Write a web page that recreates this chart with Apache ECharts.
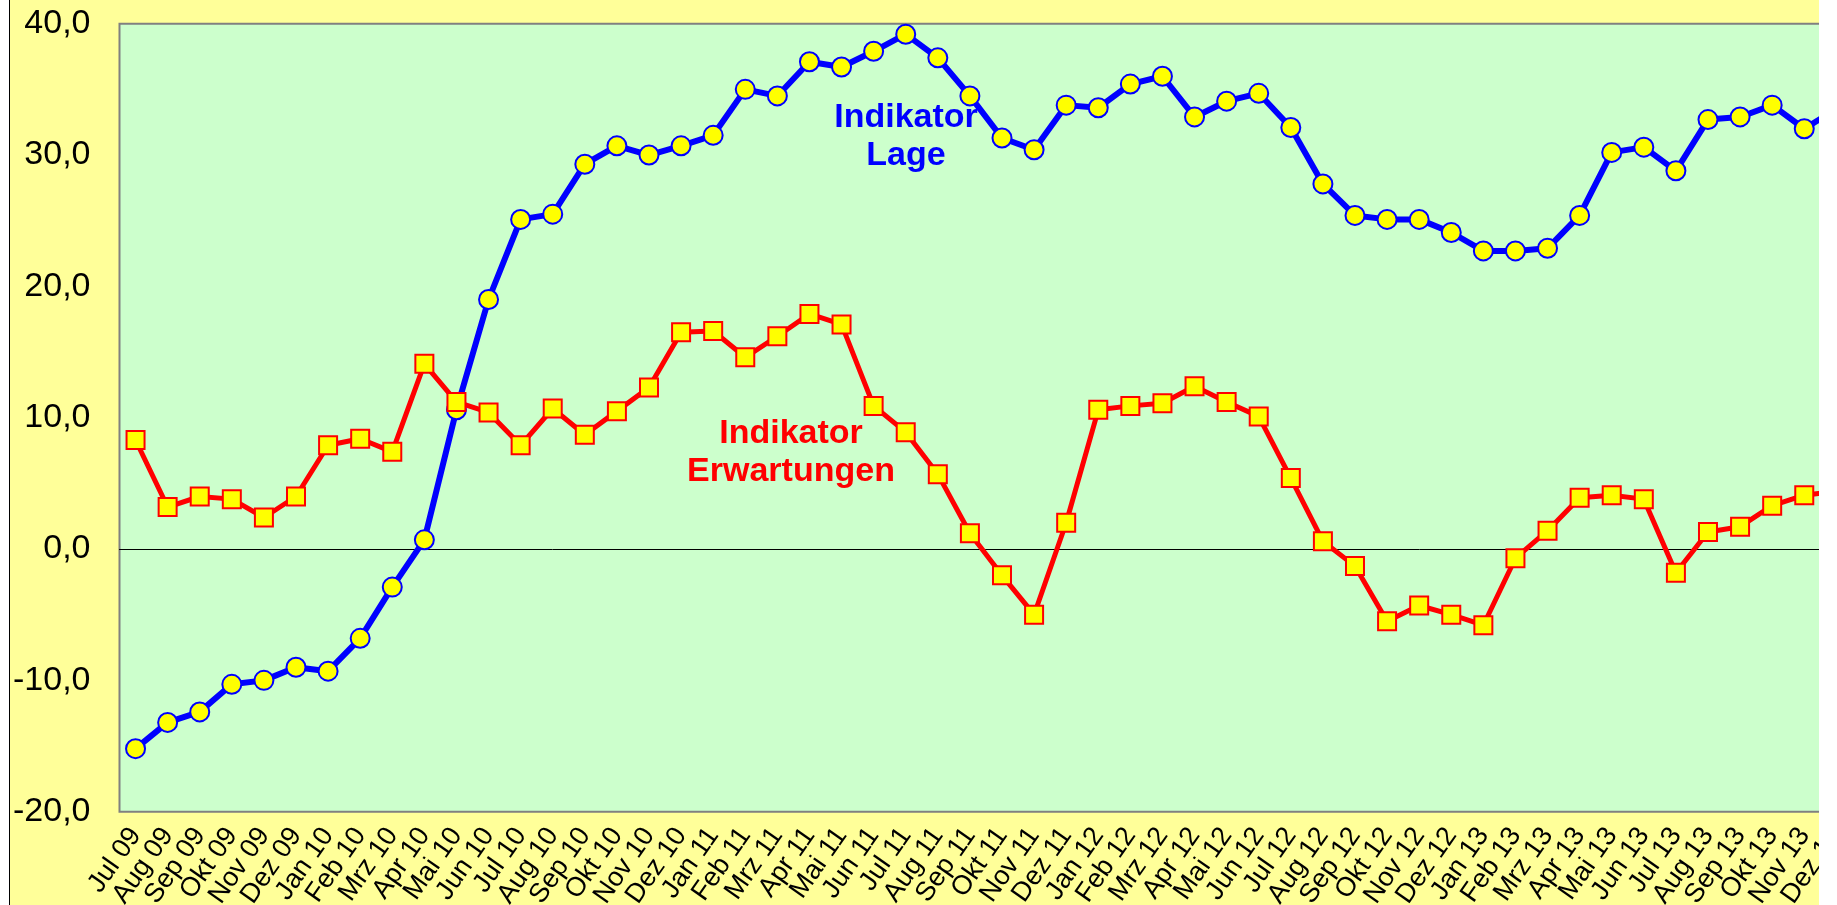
<!DOCTYPE html>
<html>
<head>
<meta charset="utf-8">
<script src="https://cdn.jsdelivr.net/npm/echarts@6/dist/echarts.min.js"></script>
<style>
  html, body { margin: 0; padding: 0; background: #ffffff; }
  #wrap { position: absolute; left: 9px; top: 0; width: 1810px; height: 905px; overflow: hidden; border-left: 1px solid #000; box-sizing: border-box; background: #FFFF99; }
  #chart { position: absolute; left: 0; top: 0; width: 1900px; height: 905px; }
</style>
</head>
<body>
<div id="wrap"><div id="chart"></div></div>
<script>
const categories = [
  'Jul 09','Aug 09','Sep 09','Okt 09','Nov 09','Dez 09',
  'Jan 10','Feb 10','Mrz 10','Apr 10','Mai 10','Jun 10','Jul 10','Aug 10','Sep 10','Okt 10','Nov 10','Dez 10',
  'Jan 11','Feb 11','Mrz 11','Apr 11','Mai 11','Jun 11','Jul 11','Aug 11','Sep 11','Okt 11','Nov 11','Dez 11',
  'Jan 12','Feb 12','Mrz 12','Apr 12','Mai 12','Jun 12','Jul 12','Aug 12','Sep 12','Okt 12','Nov 12','Dez 12',
  'Jan 13','Feb 13','Mrz 13','Apr 13','Mai 13','Jun 13','Jul 13','Aug 13','Sep 13','Okt 13','Nov 13','Dez 13'
];
const lage = [
  -15.2, -13.2, -12.4, -10.3, -10.0, -9.0,
  -9.3, -6.8, -2.9, 0.7, 10.6, 19.0, 25.1, 25.5, 29.3, 30.7, 30.0, 30.7,
  31.5, 35.0, 34.5, 37.1, 36.7, 37.9, 39.2, 37.4, 34.5, 31.3, 30.4, 33.8,
  33.6, 35.4, 36.0, 32.9, 34.1, 34.7, 32.1, 27.8, 25.4, 25.1, 25.1, 24.1,
  22.7, 22.7, 22.9, 25.4, 30.2, 30.6, 28.8, 32.7, 32.9, 33.8, 32.0, 33.5
];
const erwartungen = [
  8.3, 3.2, 4.0, 3.8, 2.4, 4.0,
  7.9, 8.4, 7.4, 14.1, 11.2, 10.4, 7.9, 10.7, 8.7, 10.5, 12.3, 16.5,
  16.6, 14.6, 16.2, 17.9, 17.1, 10.9, 8.9, 5.7, 1.2, -2.0, -5.0, 2.0,
  10.6, 10.9, 11.1, 12.4, 11.2, 10.1, 5.4, 0.6, -1.3, -5.5, -4.3, -5.0,
  -5.8, -0.7, 1.4, 3.9, 4.1, 3.8, -1.8, 1.3, 1.7, 3.3, 4.1, 4.4
];
const yMin = -20, yMax = 40, yStep = 10;
const labelLage = 'Indikator\nLage';
const labelErw = 'Indikator\nErwartungen';

const FONT = '"Liberation Sans", Arial, sans-serif';
const chart = echarts.init(document.getElementById('chart'), null, { renderer: 'canvas' });
chart.setOption({
  backgroundColor: '#FFFF99',
  animation: false,
  grid: {
    left: 109.5, right: 57.6, top: 23.7, bottom: 93.3,
    show: true, backgroundColor: '#CCFFCC', borderColor: '#808080', borderWidth: 2,
    containLabel: false, outerBoundsMode: 'none'
  },
  xAxis: [{
    type: 'category', data: categories, boundaryGap: true, position: 'bottom',
    axisLine: { show: false, onZero: false }, axisTick: { show: false },
    axisLabel: { interval: 0, rotate: 55, fontSize: 27, color: '#000', fontFamily: FONT, margin: 19 },
    splitLine: { show: false }
  }, {
    type: 'category', data: categories, boundaryGap: true, position: 'bottom',
    axisLine: { show: true, onZero: true, lineStyle: { color: '#000', width: 1 } },
    axisTick: { show: false }, axisLabel: { show: false }, splitLine: { show: false }
  }],
  yAxis: {
    type: 'value', min: yMin, max: yMax, interval: yStep,
    axisLine: { show: false }, axisTick: { show: false }, splitLine: { show: false },
    axisLabel: { fontSize: 34, color: '#000', fontFamily: FONT, margin: 29,
      formatter: v => v.toFixed(1).replace('.', ',') }
  },
  series: [{
    name: 'Indikator Lage', type: 'line', data: lage, xAxisIndex: 0,
    symbol: 'circle', symbolSize: 19, showAllSymbol: true,
    lineStyle: { color: '#0000FF', width: 6 },
    itemStyle: { color: '#FFFF00', borderColor: '#0000FF', borderWidth: 2 },
    z: 3
  }, {
    name: 'Indikator Erwartungen', type: 'line', data: erwartungen, xAxisIndex: 0,
    symbol: 'rect', symbolSize: 18, showAllSymbol: true,
    lineStyle: { color: '#FF0000', width: 5 },
    itemStyle: { color: '#FFFF00', borderColor: '#FF0000', borderWidth: 2 },
    z: 4
  }],
  graphic: [{
    type: 'text', x: 896, y: 137, z: 10,
    style: { text: labelLage, fill: '#0000FF', font: 'bold 34px ' + FONT,
      textAlign: 'center', textVerticalAlign: 'middle', lineHeight: 38 }
  }, {
    type: 'text', x: 781, y: 453, z: 10,
    style: { text: labelErw, fill: '#FF0000', font: 'bold 34px ' + FONT,
      textAlign: 'center', textVerticalAlign: 'middle', lineHeight: 38 }
  }]
});
</script>
</body>
</html>
